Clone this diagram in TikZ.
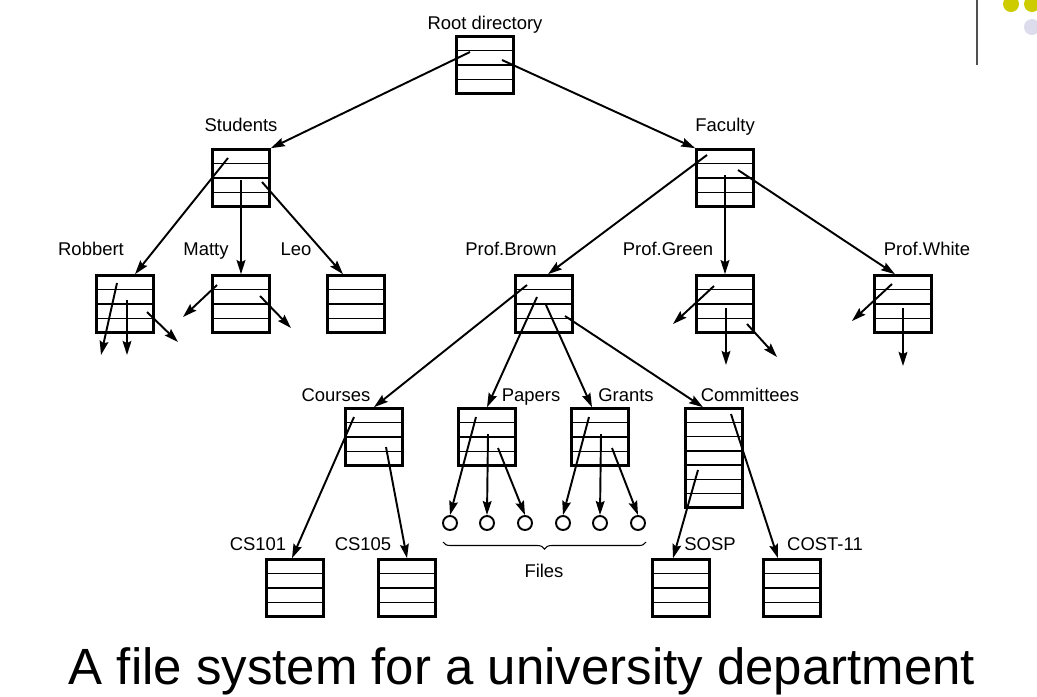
\documentclass[tikz,border=0pt]{standalone}
\usepackage{fontspec}
\setmainfont{Liberation Sans}
\usetikzlibrary{calc,arrows.meta,decorations.pathreplacing}
\definecolor{dotyellow}{RGB}{204,204,0}
\definecolor{dotlilac}{RGB}{220,220,236}
\definecolor{barline}{RGB}{80,80,80}

\begin{document}
\begin{tikzpicture}[x=0.2mm,y=-0.2mm,
  lbl/.style={font=\fontsize{10.5}{12}\selectfont, inner sep=0pt, anchor=base},
  dir/.style={draw, line width=1.5pt, minimum width=1.14cm, minimum height=1.14cm, inner sep=0pt,
    path picture={
      \coordinate (sw) at (path picture bounding box.south west);
      \coordinate (ne) at (path picture bounding box.north east);
      \foreach \k in {1,...,#1}{\draw[line width=0.7pt] ($(sw)!\k/(#1+1)!(sw|-ne)$) -- ($(sw-|ne)!\k/(#1+1)!(ne)$);}
    }},
  dir/.default=3,
  ptr/.style={line width=1.1pt, -{Stealth[length=8pt,width=5pt,inset=1.2pt]}},
  file/.style={circle, draw, line width=1.1pt, minimum size=0.28cm, inner sep=0pt}]
  \useasboundingbox (0,0) rectangle (1037,696);
  % slide decoration
  \draw[barline, line width=1.1pt] (977,0) -- (977,65);
  \fill[dotyellow] (1011,4) circle (8);
  \fill[dotyellow] (1032,4) circle (8);
  \fill[dotlilac] (1032,27) circle (8);

  % directories
  \node[dir] (root) at (485,65) {};
  \node[dir] (students) at (241,178) {};
  \node[dir] (faculty) at (725,178) {};
  \node[dir] (robbert) at (125,304) {};
  \node[dir] (matty) at (241,304) {};
  \node[dir] (leo) at (356,304) {};
  \node[dir] (brown) at (544,304) {};
  \node[dir] (green) at (725,304) {};
  \node[dir] (white) at (903,304) {};
  \node[dir] (courses) at (374,437) {};
  \node[dir] (papers) at (487,437) {};
  \node[dir] (grants) at (600,437) {};
  \node[dir=6, minimum height=1.98cm] (committees) at (714,458) {};
  \node[dir] (cs101) at (295,588) {};
  \node[dir] (cs105) at (407,588) {};
  \node[dir] (sosp) at (681,588) {};
  \node[dir] (cost) at (792,588) {};

  % files
  \foreach \i/\x in {1/450,2/487,3/525,4/563,5/600,6/638}
    \node[file] (f\i) at (\x,523) {};

  % labels
  \node[lbl] (rootlbl) at (485,29) {Root directory};
  \node[lbl] (studentslbl) at (241,131) {Students};
  \node[lbl] (facultylbl) at (725,131) {Faculty};
  \node[lbl] (robbertlbl) at (91,255) {Robbert};
  \node[lbl] (mattylbl) at (206,255) {Matty};
  \node[lbl] (leolbl) at (296,255) {Leo};
  \node[lbl] (brownlbl) at (511,255) {Prof.Brown};
  \node[lbl] (greenlbl) at (668,255) {Prof.Green};
  \node[lbl] (whitelbl) at (927,255) {Prof.White};
  \node[lbl] (courseslbl) at (336,401) {Courses};
  \node[lbl] (paperslbl) at (531,401) {Papers};
  \node[lbl] (grantslbl) at (626,401) {Grants};
  \node[lbl] (committeeslbl) at (750,401) {Committees};
  \node[lbl] (cs101lbl) at (258,550) {CS101};
  \node[lbl] (cs105lbl) at (363,550) {CS105};
  \node[lbl] (sosplbl) at (710,550) {SOSP};
  \node[lbl] (costlbl) at (825,550) {COST-11};
  \node[lbl] (fileslbl) at (544,577) {Files};
  \node[lbl, font=\fontsize{29}{33}\selectfont] (title) at (522,684) {A file system for a university department};

  % tree
  \draw[ptr] ([shift={(-15,-13)}]root.center) -- (students.north east);
  \draw[ptr] ([shift={(17,-5)}]root.center) -- (faculty.north west);
  \draw[ptr] ([shift={(-13,-20)}]students.center) -- ([shift={(10,0)}]robbert.north);
  \draw[ptr] ([shift={(0,2)}]students.center) -- (matty.north);
  \draw[ptr] ([shift={(21,4)}]students.center) -- ([shift={(-13,0)}]leo.north);
  \draw[ptr] ([shift={(-18,-23)}]faculty.center) -- ([shift={(4,0)}]brown.north);
  \draw[ptr] ([shift={(0,-3)}]faculty.center) -- (green.north);
  \draw[ptr] ([shift={(13,-8)}]faculty.center) -- ([shift={(-8,0)}]white.north);
  \draw[ptr] ([shift={(-17,-19)}]brown.center) -- (courses.north);
  \draw[ptr] ([shift={(-7,-7)}]brown.center) -- (papers.north);
  \draw[ptr] ([shift={(2,1)}]brown.center) -- ([shift={(-8,0)}]grants.north);
  \draw[ptr] ([shift={(21,12)}]brown.center) -- ([shift={(-11,0)}]committees.north);
  \draw[ptr] ([shift={(-20,-20)}]courses.center) -- ([shift={(-3,0)}]cs101.north);
  \draw[ptr] ([shift={(12,10)}]courses.center) -- (cs105.north);
  \draw[ptr] ([shift={(-11,-20)}]papers.center) -- (f1.north);
  \draw[ptr] ([shift={(1,-3)}]papers.center) -- (f2.north);
  \draw[ptr] ([shift={(11,11)}]papers.center) -- (f3.north);
  \draw[ptr] ([shift={(-11,-20)}]grants.center) -- (f4.north);
  \draw[ptr] ([shift={(1,-3)}]grants.center) -- (f5.north);
  \draw[ptr] ([shift={(12,11)}]grants.center) -- (f6.north);
  \draw[ptr] ([shift={(-16,12)}]committees.center) -- ([shift={(-8,0)}]sosp.north);
  \draw[ptr] ([shift={(17,-44)}]committees.center) -- ([shift={(-14,0)}]cost.north);

  % pointers leaving the picture
  \draw[ptr] ([shift={(-8,-21)}]robbert.center) --++(-16,72);
  \draw[ptr] ([shift={(2,-4)}]robbert.center) --++(0,55);
  \draw[ptr] ([shift={(22,8)}]robbert.center) --++(31,30);
  \draw[ptr] ([shift={(-24,-19)}]matty.center) --++(-34,32);
  \draw[ptr] ([shift={(19,-8)}]matty.center) --++(31,32);
  \draw[ptr] ([shift={(-11,-18)}]green.center) --++(-41,38);
  \draw[ptr] ([shift={(1,4)}]green.center) --++(0,57);
  \draw[ptr] ([shift={(22,20)}]green.center) --++(30,33);
  \draw[ptr] ([shift={(-11,-20)}]white.center) --++(-40,37);
  \draw[ptr] ([shift={(0,4)}]white.center) --++(0,58);

  \draw[line width=0.6pt, decorate, decoration={brace, mirror, amplitude=4pt}]
    ([shift={(-7,19)}]f1.center) -- ([shift={(8,19)}]f6.center);
\end{tikzpicture}
\end{document}
